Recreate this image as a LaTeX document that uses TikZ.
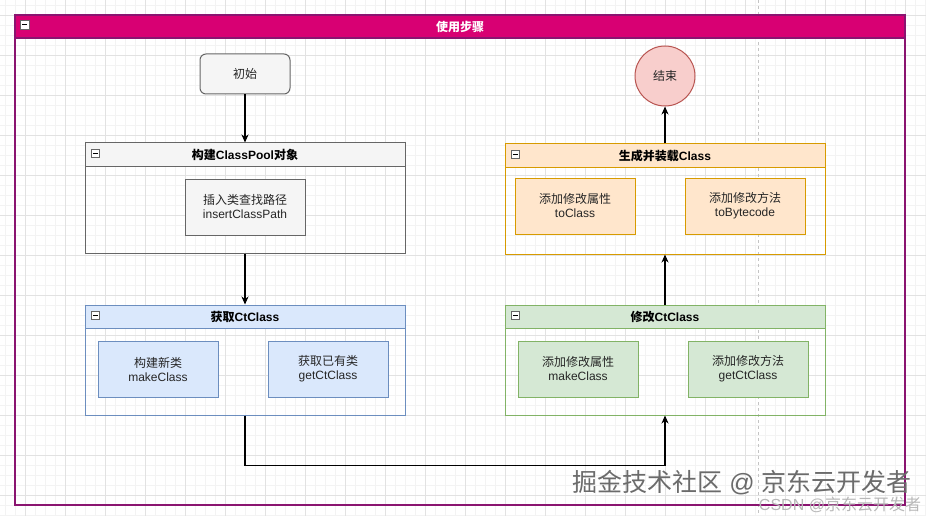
\documentclass[tikz,border=0pt]{standalone}
\usepackage{fontspec}
\setmainfont{Liberation Sans}
\newfontfamily\cjk{Noto Sans CJK SC}
\newcommand{\zh}[1]{{\cjk #1}}
\usetikzlibrary{arrows.meta}

\definecolor{laneFill}{HTML}{D80073}
\definecolor{laneDraw}{HTML}{8A1470}
\definecolor{grayFill}{HTML}{F5F5F5}
\definecolor{grayDraw}{HTML}{666666}
\definecolor{blueFill}{HTML}{DAE8FC}
\definecolor{blueDraw}{HTML}{6C8EBF}
\definecolor{greenFill}{HTML}{D5E8D4}
\definecolor{greenDraw}{HTML}{82B366}
\definecolor{orangeFill}{HTML}{FFE6CC}
\definecolor{orangeDraw}{HTML}{D79B00}
\definecolor{redFill}{HTML}{F8CECC}
\definecolor{redDraw}{HTML}{B85450}
\definecolor{gMinor}{HTML}{F3F3F3}
\definecolor{gMajor}{HTML}{E2E2E2}
\definecolor{pbreak}{HTML}{C4C4C4}
\definecolor{txt}{HTML}{262626}

\begin{document}
\begin{tikzpicture}[x=1pt, y=-1pt, line width=1pt,
    every node/.style={font=\fontsize{12}{14}\selectfont, text=txt, inner sep=0pt},
    gridminor/.style={draw=gMinor, line width=0.6pt},
    gridmajor/.style={draw=gMajor, line width=0.8pt},
    pagebreak/.style={draw=pbreak, dashed, line width=0.8pt},
    pool/.style={draw=#1, minimum width=320pt, minimum height=110pt},
    poolhead/.style 2 args={fill=#1, draw=#2, minimum width=320pt, minimum height=23pt,
        anchor=north, font=\bfseries\fontsize{12}{14}\selectfont, text=black},
    task/.style 2 args={fill=#1, draw=#2, minimum width=120pt, minimum height=56pt, align=center},
    fold/.style={draw=grayDraw, fill=white, minimum size=8pt, line width=0.6pt, anchor=north west, text=black},
    flow/.style={draw=black, line width=1.2pt, -{Stealth[length=8pt,width=7pt,inset=2.5pt]}},
    mark1/.style={font=\fontsize{25}{28}\selectfont, text=black!58},
    mark2/.style={font=\fontsize{16}{18}\selectfont, text=black!28}]
    \useasboundingbox (0,0) rectangle (926,516);
    \fill[white] (0,0) rectangle (926,516);

    % grid of the canvas
    \foreach \x in {5,15,...,925} \draw[gridminor] (\x,0) -- (\x,516);
    \foreach \y in {5,15,...,515} \draw[gridminor] (0,\y) -- (926,\y);
    \foreach \x in {25,65,...,905} \draw[gridmajor] (\x,0) -- (\x,516);
    \foreach \y in {15,55,...,495} \draw[gridmajor] (0,\y) -- (926,\y);
    \draw[pagebreak] (758,0) -- (758,516);

    % outer lane
    \node[draw=laneDraw, line width=1.3pt, minimum width=890pt, minimum height=490pt] at (460,260) (LANE) {};
    \node[fill=laneFill, draw=laneDraw, line width=1.3pt, minimum width=890pt, minimum height=23pt, anchor=north,
        font=\bfseries\fontsize{12}{14}\selectfont, text=white] at (LANE.north) (LANEH) {\zh{使用步骤}};
    \node[fold, minimum size=9pt] at (20,20) {\rule{5pt}{1.2pt}};

    \node[fill=grayFill, draw=grayDraw, rounded corners=6pt, minimum width=90pt, minimum height=40pt]
        at (245,74) (START) {\zh{初始}};
    \node[circle, fill=redFill, draw=redDraw, minimum size=60pt] at (665,76) (END) {\zh{结束}};

    % ClassPool
    \node[pool=grayDraw] at (245,198) (POOL) {};
    \node[poolhead={grayFill}{grayDraw}] at (POOL.north) (POOLH) {\zh{构建}ClassPool\zh{对象}};
    \node[fold] at (91,149) {\rule{5pt}{1pt}};
    \node[task={grayFill}{grayDraw}] at (245,207) (POOLPATH) {\zh{插入类查找路径}\\insertClassPath};

    % get CtClass
    \node[pool=blueDraw] at (245,360) (GET) {};
    \node[poolhead={blueFill}{blueDraw}] at (GET.north) (GETH) {\zh{获取}CtClass};
    \node[fold] at (91,311) {\rule{5pt}{1pt}};
    \node[task={blueFill}{blueDraw}] at (158,369) (GETNEW) {\zh{构建新类}\\makeClass};
    \node[task={blueFill}{blueDraw}] at (328,369) (GETOLD) {\zh{获取已有类}\\getCtClass};

    % modify CtClass
    \node[pool=greenDraw] at (665,360) (MOD) {};
    \node[poolhead={greenFill}{greenDraw}] at (MOD.north) (MODH) {\zh{修改}CtClass};
    \node[fold] at (511,311) {\rule{5pt}{1pt}};
    \node[task={greenFill}{greenDraw}] at (578,369) (MODATTR) {\zh{添加修改属性}\\makeClass};
    \node[task={greenFill}{greenDraw}] at (748,369) (MODMETH) {\zh{添加修改方法}\\getCtClass};

    % generate and load
    \node[pool=orangeDraw] at (665,199) (GEN) {};
    \node[poolhead={orangeFill}{orangeDraw}] at (GEN.north) (GENH) {\zh{生成并装载}Class};
    \node[fold] at (511,150) {\rule{5pt}{1pt}};
    \node[task={orangeFill}{orangeDraw}] at (575,206) (GENATTR) {\zh{添加修改属性}\\toClass};
    \node[task={orangeFill}{orangeDraw}] at (745,206) (GENMETH) {\zh{添加修改方法}\\toBytecode};

    \draw[flow] (START.south) -- (POOL.north);
    \draw[flow] (POOL.south) -- (GET.north);
    \draw[flow] (GET.south) -- ++(0,50) -| (MOD.south);
    \draw[flow] (MOD.north) -- (GEN.south);
    \draw[flow] (GEN.north) -- (END.south);

    \node[mark1] at (742,483) (WMA) {\zh{掘金技术社区} @ \zh{京东云开发者}};
    \node[mark2] at (840,505) (WMB) {CSDN @\zh{京东云开发者}};
\end{tikzpicture}
\end{document}
